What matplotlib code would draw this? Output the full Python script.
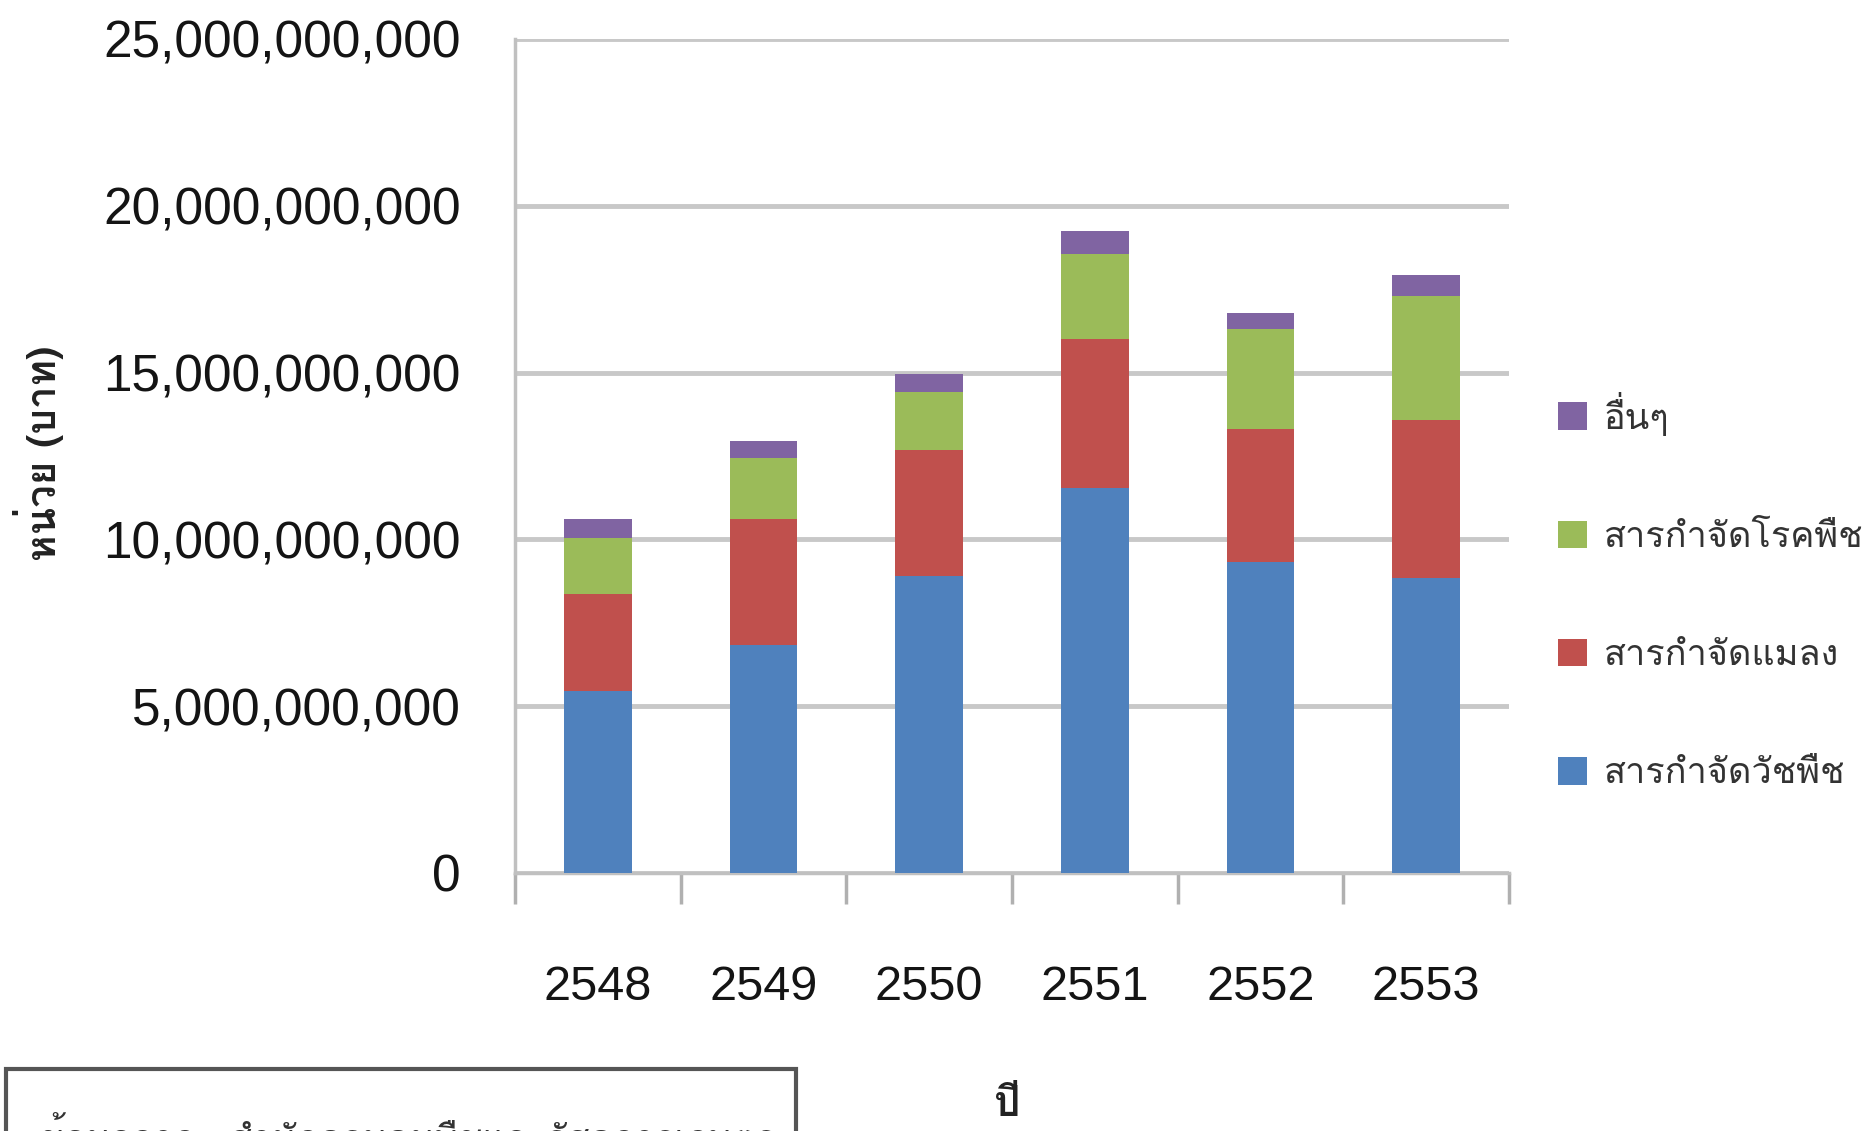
import matplotlib
matplotlib.use("Agg")
import matplotlib.pyplot as plt
from matplotlib import font_manager
from matplotlib.ft2font import FT2Font
from matplotlib.patches import Rectangle
from matplotlib.ticker import FuncFormatter, FixedLocator
import numpy as np

# ---- data ----
years = ["2548", "2549", "2550", "2551", "2552", "2553"]
herbicide = [5.45e9, 6.83e9, 8.89e9, 11.53e9, 9.33e9, 8.83e9]
insecticide = [2.90e9, 3.77e9, 3.78e9, 4.49e9, 3.99e9, 4.74e9]
fungicide = [1.68e9, 1.84e9, 1.76e9, 2.54e9, 3.00e9, 3.74e9]
others = [0.57e9, 0.51e9, 0.54e9, 0.68e9, 0.47e9, 0.62e9]
series_names = ["สารกำจัดวัชพืช", "สารกำจัดแมลง", "สารกำจัดโรคพืช", "อื่นๆ"]
colors = ["#4F81BD", "#C0504D", "#9BBB59", "#8064A2"]
y_label = "หน่วย (บาท)"
x_label = "ปี"
source_text = "ข้อมูลจาก : สำนักควบคุมพืชและวัสดุการเกษตร"

# ---- fonts ----
names = {f.name for f in font_manager.fontManager.ttflist}
num_font = "Liberation Sans Narrow" if "Liberation Sans Narrow" in names else "Liberation Sans"
narrow = num_font == "Liberation Sans Narrow"

thai_font = None
for f in font_manager.fontManager.ttflist:
    try:
        cm = FT2Font(f.fname).get_charmap()
        if 0x0E01 in cm and 0x0E32 in cm:
            thai_font = f.name
            break
    except Exception:
        pass
thai_family = [thai_font, "DejaVu Sans"] if thai_font else ["DejaVu Sans"]

W, H = 1868, 1131
fig = plt.figure(figsize=(W / 100, H / 100), dpi=100)
ax = fig.add_axes([515 / W, 1 - 873 / H, (1509 - 515) / W, (873 - 39) / H])

x = np.arange(len(years))
data = [herbicide, insecticide, fungicide, others]
bottom = np.zeros(len(years))
handles = []
for vals, c, n in zip(data, colors, series_names):
    b = ax.bar(x, vals, width=0.41, bottom=bottom, color=c, label=n, zorder=3)
    handles.append(b)
    bottom += np.array(vals)

ax.set_xlim(-0.5, 5.5)
ax.set_ylim(0, 25e9)
ax.set_yticks(np.arange(0, 25e9 + 1, 5e9))
ax.yaxis.set_major_formatter(FuncFormatter(lambda v, p: f"{int(round(v)):,}"))
ax.grid(axis="y", color="#c8c8c8", linewidth=3.5, zorder=0)
ax.set_axisbelow(True)

for s in ["top", "right"]:
    ax.spines[s].set_visible(False)
for s in ["left", "bottom"]:
    ax.spines[s].set_color("#c0c0c0")
    ax.spines[s].set_linewidth(2.5)

ysize = 45 if narrow else 37
xsize = 43 if narrow else 35
ax.tick_params(axis="y", length=0, pad=39, labelsize=ysize, labelcolor="#141414")
for t in ax.get_yticklabels():
    t.set_fontfamily(num_font)

ax.set_xticks(x)
ax.set_xticklabels(years)
ax.tick_params(axis="x", which="major", length=0, pad=66, labelsize=xsize, labelcolor="#141414")
for t in ax.get_xticklabels():
    t.set_fontfamily(num_font)
ax.xaxis.set_minor_locator(FixedLocator(np.arange(-0.5, 6, 1.0)))
ax.tick_params(axis="x", which="minor", length=22, width=2.5, color="#b0b0b0", direction="out")

fig.text(39 / W, 1 - 453 / H, y_label, rotation=90, ha="center", va="center",
         fontsize=29, fontweight="bold", family=thai_family, color="#222222")
fig.text(1007 / W, 1 - 1106 / H, x_label, ha="center", va="center",
         fontsize=30, fontweight="bold", family=thai_family, color="#222222")

leg = fig.legend(handles[::-1], series_names[::-1], loc="center left",
                 bbox_to_anchor=(1544 / W, 1 - 591 / H), frameon=False,
                 prop={"family": thai_family, "size": 26},
                 handlelength=0.8, handleheight=0.8, handletextpad=0.45,
                 labelspacing=2.35, borderaxespad=0)
for t in leg.get_texts():
    t.set_color("#333333")

box = Rectangle((6 / W, -0.05), 790 / W, (H - 1069) / H + 0.05, transform=fig.transFigure,
                fill=False, edgecolor="#555555", linewidth=3, clip_on=False)
fig.patches.append(box)
fig.text(40 / W, 1 - 1150 / H, source_text, ha="left", va="baseline",
         fontsize=26, family=thai_family, color="#333333")

fig.savefig("out.png", dpi=100)
